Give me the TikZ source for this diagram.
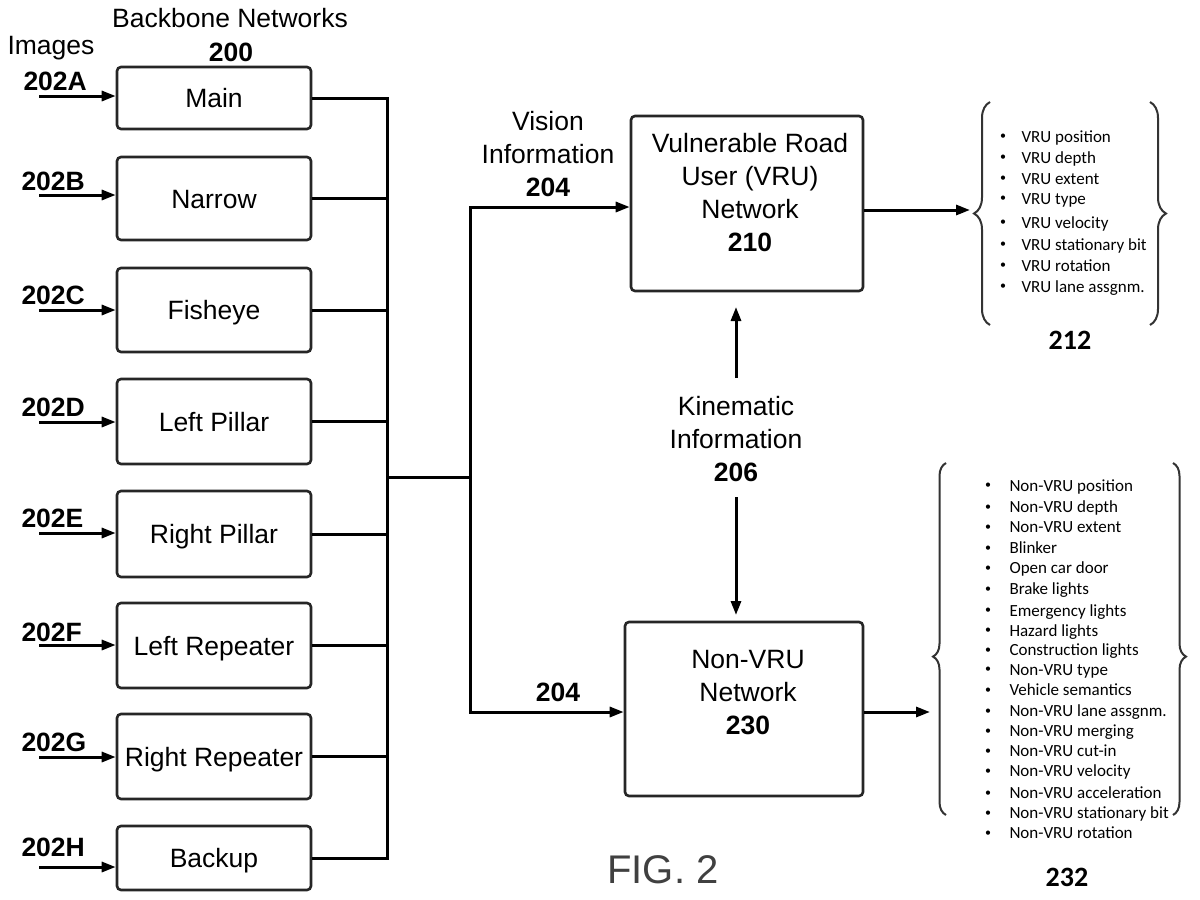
\documentclass[tikz,border=0pt]{standalone}
\usepackage{fontspec}
\setmainfont{Liberation Sans}
\newfontfamily\listfont{Carlito}
\usetikzlibrary{arrows.meta,decorations.pathreplacing}
\begin{document}
\begin{tikzpicture}[x=1pt,y=-1pt,
  line width=3pt,
  nbox/.style={draw=black!85, line width=2.6pt, rounded corners=4pt, minimum width=194pt,
    font=\fontsize{26.5}{33}\selectfont, text height=19pt, text depth=0pt, inner sep=0pt},
  bigbox/.style={draw=black!85, line width=2.6pt, rounded corners=4pt, inner sep=0pt},
  arr/.style={-{Triangle[length=14pt,width=10pt]}},
  lbl/.style={font=\fontsize{26.5}{33}\selectfont, inner sep=0pt, align=center},
  blbl/.style={font=\fontsize{26.5}{33}\bfseries\selectfont, inner sep=0pt},
  itm/.style={font=\listfont\fontsize{17}{20}\selectfont, anchor=base west, inner sep=0pt},
  bul/.style={font=\listfont\fontsize{12}{14}\selectfont, inner sep=0pt},
  brc/.style={decorate, draw=black!80, line width=2pt},
  numlbl/.style={font=\listfont\bfseries\fontsize{28}{32}\selectfont, inner sep=0pt}
]
\fill[white] (0,0) rectangle (1200,900);
\useasboundingbox (0,0) rectangle (1200,900);

% titles
\node[lbl] (bbn) at (230,18) {Backbone Networks};
\node[blbl] (n200) at (231,52) {200};
\node[lbl] (imgs) at (51,48) {Images};

% backbone boxes
\node[nbox, minimum height=62pt] (main) at (214,98) {Main};
\node[nbox, minimum height=83pt] (narrow) at (214,198.5) {Narrow};
\node[nbox, minimum height=84pt] (fish) at (214,310) {Fisheye};
\node[nbox, minimum height=85pt] (lp) at (214,421.5) {Left Pillar};
\node[nbox, minimum height=86pt] (rp) at (214,534) {Right Pillar};
\node[nbox, minimum height=85pt] (lr) at (214,645.5) {Left Repeater};
\node[nbox, minimum height=85pt] (rr) at (214,756.5) {Right Repeater};
\node[nbox, minimum height=64pt] (bk) at (214,858) {Backup};

% input arrows and labels
\coordinate (iA) at (39,96);
\coordinate (iB) at (39,195);
\coordinate (iC) at (39,310);
\coordinate (iD) at (39,422);
\coordinate (iE) at (39,533);
\coordinate (iF) at (39,645);
\coordinate (iG) at (39,757);
\coordinate (iH) at (39,867);
\draw[arr] (iA) -- (iA -| main.west);
\draw[arr] (iB) -- (iB -| narrow.west);
\draw[arr] (iC) -- (iC -| fish.west);
\draw[arr] (iD) -- (iD -| lp.west);
\draw[arr] (iE) -- (iE -| rp.west);
\draw[arr] (iF) -- (iF -| lr.west);
\draw[arr] (iG) -- (iG -| rr.west);
\draw[arr] (iH) -- (iH -| bk.west);
\node[blbl, anchor=west] (lA) at (22,81) {202A};
\node[blbl, anchor=west] (lB) at (20,181) {202B};
\node[blbl, anchor=west] (lC) at (20,295) {202C};
\node[blbl, anchor=west] (lD) at (20,407) {202D};
\node[blbl, anchor=west] (lE) at (20,518) {202E};
\node[blbl, anchor=west] (lF) at (20,632) {202F};
\node[blbl, anchor=west] (lG) at (20,742) {202G};
\node[blbl, anchor=west] (lH) at (20,847) {202H};

% bus
\coordinate (bt) at (387,98);
\coordinate (bb) at (387,858);
\draw (main.east) -- (bt) -- (bb) -- (bk.east);
\draw (narrow.east) -- (narrow.east -| bt);
\draw (fish.east) -- (fish.east -| bt);
\draw (lp.east) -- (lp.east -| bt);
\draw (rp.east) -- (rp.east -| bt);
\draw (lr.east) -- (lr.east -| bt);
\draw (rr.east) -- (rr.east -| bt);
\coordinate (jl) at (387,477);
\coordinate (jr) at (470,477);
\coordinate (vt) at (470,207);
\coordinate (vb) at (470,712);
\draw (jl) -- (jr);

% networks
\node[bigbox, minimum width=232pt, minimum height=175pt] (vru) at (747,203.5) {};
\node[lbl] (vrut) at (750,192.5) {Vulnerable Road\\User (VRU)\\Network\\\textbf{210}};
\node[bigbox, minimum width=238pt, minimum height=174pt] (nvru) at (744,709) {};
\node[lbl] (nvrut) at (748,692.5) {Non-VRU\\Network\\\textbf{230}};

\draw[arr] (jr) -- (vt) -- (vt -| vru.west);
\draw[arr] (jr) -- (vb) -- (vb -| nvru.west);

\node[lbl] (vis) at (548,154.5) {Vision\\Information\\\textbf{204}};
\node[blbl] (n204b) at (558,692) {204};

\node[lbl] (kin) at (736,439.5) {Kinematic\\Information\\\textbf{206}};
\coordinate (ku1) at (736,378);
\coordinate (ku2) at (736,307);
\coordinate (kd1) at (736,497);
\coordinate (kd2) at (736,615);
\draw[arr] (ku1) -- (ku2);
\draw[arr] (kd1) -- (kd2);

% outputs
\coordinate (o1) at (970,210);
\coordinate (o2) at (930,712);
\draw[arr] (vru.east |- o1) -- (o1);
\draw[arr] (nvru.east |- o2) -- (o2);

% braces
\coordinate (a1) at (990,325);
\coordinate (a2) at (990,102);
\coordinate (a3) at (1150,102);
\coordinate (a4) at (1150,325);
\draw[brc, decoration={brace, amplitude=16pt}] (a1) -- (a2);
\draw[brc, decoration={brace, amplitude=16pt}] (a3) -- (a4);
\coordinate (c1) at (946,815);
\coordinate (c2) at (946,463);
\coordinate (c3) at (1173,463);
\coordinate (c4) at (1173,815);
\draw[brc, decoration={brace, amplitude=13pt, aspect=0.45}] (c1) -- (c2);
\draw[brc, decoration={brace, amplitude=13pt, aspect=0.55}] (c3) -- (c4);

% lists
\foreach \y/\t [count=\i] in {137/VRU position, 158/VRU depth, 179/VRU extent, 199/VRU type,
  223/VRU velocity, 245/VRU stationary bit, 266/VRU rotation, 287/VRU lane assgnm.}{
  \node[itm] (va\i) at (1020,\y+5) {\t};
  \node[bul] (vbul\i) at (1003,\y) {•};
}
\foreach \y/\t [count=\i] in {486/Non-VRU position, 507.3/Non-VRU depth, 527.3/Non-VRU extent,
  548.7/Blinker, 568.3/Open car door, 589.3/Brake lights, 611/Emergency lights,
  631/Hazard lights, 650.7/Construction lights, 670/Non-VRU type, 690.7/Vehicle semantics,
  711.7/Non-VRU lane assgnm., 731.7/Non-VRU merging, 751.7/Non-VRU cut-in,
  771.7/Non-VRU velocity, 793.3/Non-VRU acceleration, 813.3/Non-VRU stationary bit,
  833.3/Non-VRU rotation}{
  \node[itm] (na\i) at (1008,\y+5) {\t};
  \node[bul] (nbul\i) at (988,\y) {•};
}
\node[numlbl] (n212) at (1070,340) {212};
\node[numlbl] (n232) at (1067,877) {232};

\node[font=\fontsize{40}{40}\selectfont, text=black!75, inner sep=0pt] (fig) at (663,870) {FIG. 2};
\end{tikzpicture}
\end{document}
